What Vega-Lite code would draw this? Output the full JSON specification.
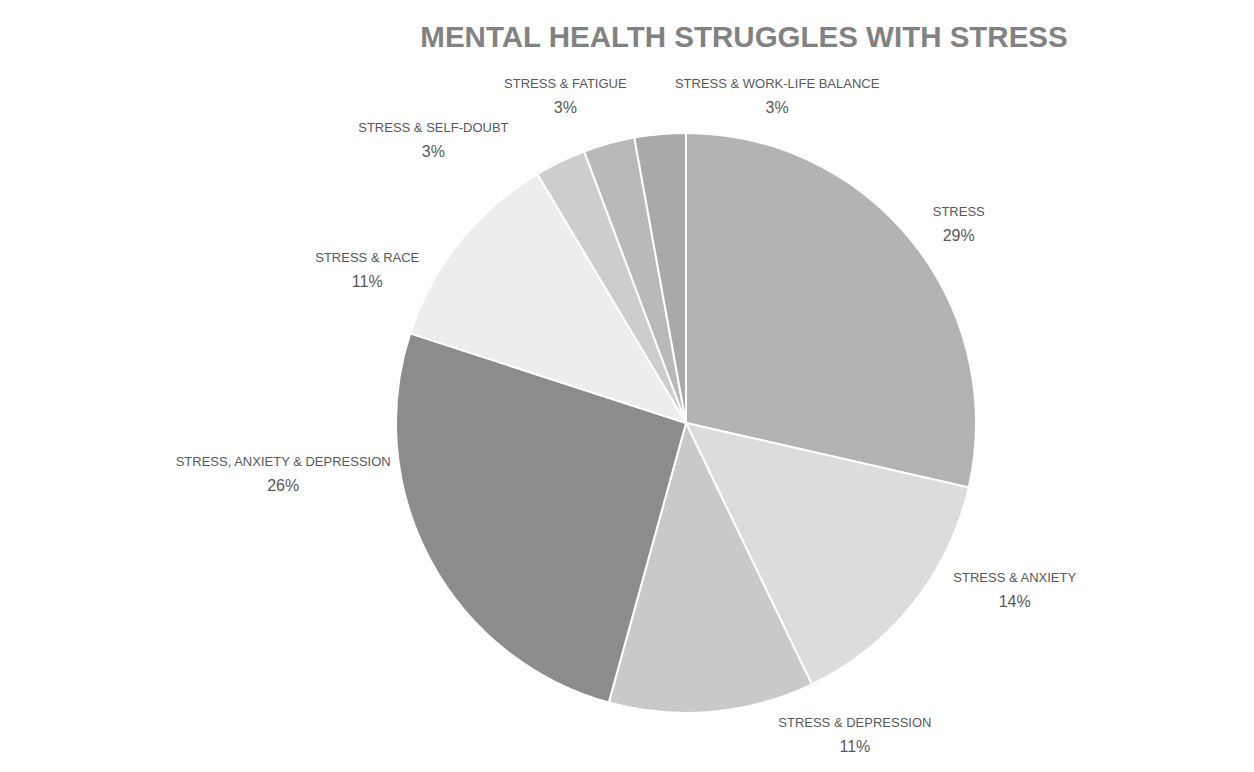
{
  "$schema": "https://vega.github.io/schema/vega-lite/v6.json",
  "width": 1136,
  "height": 698,
  "autosize": "none",
  "padding": {"left": 118, "top": 74, "right": 0, "bottom": 0},
  "background": "white",
  "view": {"stroke": null},
  "title": {
    "text": "MENTAL HEALTH STRUGGLES WITH STRESS",
    "anchor": "middle",
    "frame": "group",
    "dx": 58,
    "dy": 26,
    "offset": 24,
    "baseline": "alphabetic",
    "font": "Liberation Sans",
    "fontSize": 29.5,
    "fontWeight": "bold",
    "color": "#828282"
  },
  "data": {
    "values": [
      {"idx": 0, "cat": "STRESS", "value": 0.2857},
      {"idx": 1, "cat": "STRESS & ANXIETY", "value": 0.1429},
      {"idx": 2, "cat": "STRESS & DEPRESSION", "value": 0.1143},
      {"idx": 3, "cat": "STRESS, ANXIETY & DEPRESSION", "value": 0.2571},
      {"idx": 4, "cat": "STRESS & RACE", "value": 0.1143},
      {"idx": 5, "cat": "STRESS & SELF-DOUBT", "value": 0.0286},
      {"idx": 6, "cat": "STRESS & FATIGUE", "value": 0.0286},
      {"idx": 7, "cat": "STRESS & WORK-LIFE BALANCE", "value": 0.0285}
    ]
  },
  "encoding": {
    "theta": {"field": "value", "type": "quantitative", "stack": true},
    "order": {"field": "idx", "type": "quantitative"}
  },
  "layer": [
    {
      "mark": {"type": "arc", "radius": 290, "stroke": "white", "strokeWidth": 2},
      "encoding": {
        "color": {
          "field": "cat",
          "type": "nominal",
          "legend": null,
          "scale": {
            "domain": ["STRESS", "STRESS & ANXIETY", "STRESS & DEPRESSION", "STRESS, ANXIETY & DEPRESSION", "STRESS & RACE", "STRESS & SELF-DOUBT", "STRESS & FATIGUE", "STRESS & WORK-LIFE BALANCE"],
            "range": ["#b3b3b3", "#dcdcdc", "#c9c9c9", "#8c8c8c", "#ededed", "#cdcdcd", "#b9b9b9", "#a9a9a9"]
          }
        }
      }
    },
    {
      "mark": {
        "type": "text",
        "radius": 345,
        "font": "Liberation Sans Narrow, Liberation Sans",
        "fontSize": 13,
        "color": "#595959",
        "align": "center",
        "baseline": "middle",
        "dx": {"expr": "[3,59,138,-99,-49,-103,-29,122][datum.idx]"},
        "dy": {"expr": "[16,-48,-32,-112,62,28,6,17][datum.idx] - 12"}
      },
      "encoding": {"text": {"field": "cat", "type": "nominal"}}
    },
    {
      "mark": {
        "type": "text",
        "radius": 345,
        "font": "Liberation Sans Narrow, Liberation Sans",
        "fontSize": 16,
        "color": "#595959",
        "align": "center",
        "baseline": "middle",
        "dx": {"expr": "[3,59,138,-99,-49,-103,-29,122][datum.idx]"},
        "dy": {"expr": "[16,-48,-32,-112,62,28,6,17][datum.idx] + 12"}
      },
      "encoding": {"text": {"field": "value", "type": "quantitative", "format": ".0%"}}
    }
  ]
}
